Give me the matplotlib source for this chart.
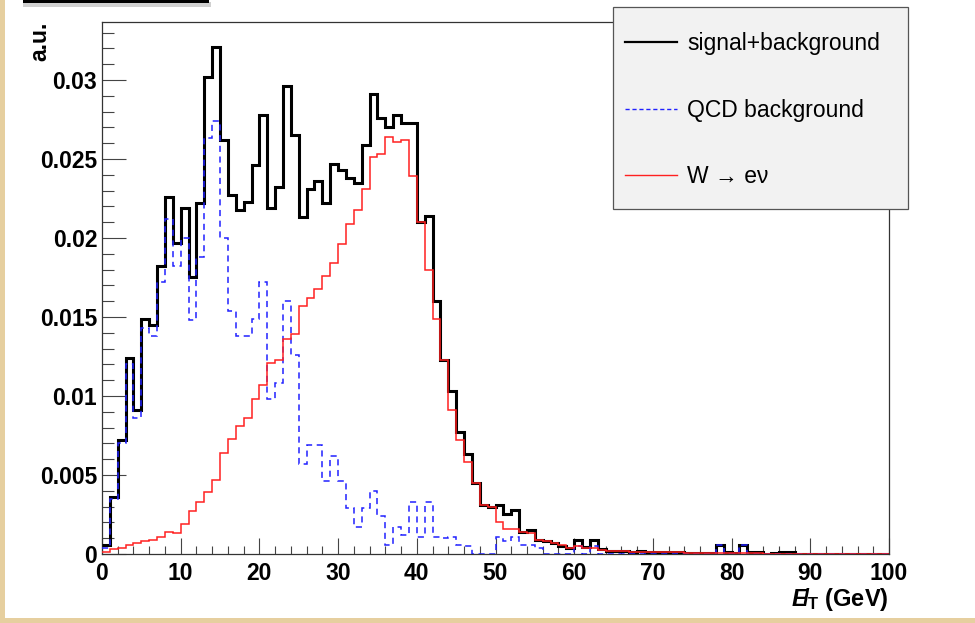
import matplotlib
matplotlib.use("Agg")
import matplotlib.pyplot as plt
from matplotlib.lines import Line2D
from matplotlib.patches import Rectangle
from matplotlib.ticker import FixedLocator, FixedFormatter, MultipleLocator
import numpy as np

plt.rcParams["font.family"] = ["Liberation Sans", "DejaVu Sans"]
plt.rcParams["mathtext.fontset"] = "custom"
plt.rcParams["mathtext.rm"] = "Liberation Sans:bold"
plt.rcParams["mathtext.it"] = "Liberation Sans:bold:italic"
plt.rcParams["mathtext.bf"] = "Liberation Sans:bold"

# 1 GeV bins from 0 to 100
bin_edges = np.arange(0, 101, 1)

signal_plus_bkg = [
    0.00057, 0.0036, 0.0072, 0.0124, 0.0091, 0.0149, 0.0145, 0.0182, 0.0226, 0.0197,
    0.0219, 0.0175, 0.0222, 0.0302, 0.0321, 0.0262, 0.0227, 0.0218, 0.0223, 0.0246,
    0.0278, 0.0219, 0.0232, 0.0296, 0.0265, 0.0213, 0.0231, 0.0236, 0.0222, 0.0247,
    0.0243, 0.0238, 0.0235, 0.0259, 0.0291, 0.0276, 0.0270, 0.0278, 0.0273, 0.0273,
    0.0210, 0.0214, 0.0160, 0.0123, 0.0103, 0.0077, 0.0063, 0.0045, 0.0031, 0.0030,
    0.0031, 0.0025, 0.0028, 0.0014, 0.0015, 0.0009, 0.0008, 0.0007, 0.0005, 0.0004,
    0.0009, 0.00045, 0.0009, 0.0003, 0.0002, 0.0002, 0.0002, 0.00015, 0.0002, 0.00015,
    0.0001, 0.0001, 0.0001, 0.0001, 0.00005, 0.00005, 0.00005, 0.00005, 0.00057, 0.0001,
    0.00005, 0.00057, 0.0001, 0.0001, 0.0, 0.00005, 0.0001, 0.0001, 0.0, 0.0,
    0.0, 0.0, 0.0, 0.0, 0.0, 0.0, 0.0, 0.0, 0.0, 0.0,
]

qcd_bkg = [
    0.0004, 0.0035, 0.0070, 0.0120, 0.0086, 0.0143, 0.0138, 0.0172, 0.0212, 0.0182,
    0.0200, 0.0148, 0.0188, 0.0263, 0.0274, 0.0200, 0.0154, 0.0138, 0.0138, 0.0149,
    0.0172, 0.0098, 0.0108, 0.0160, 0.0126, 0.0057, 0.0069, 0.0069, 0.0046, 0.0062,
    0.0046, 0.0029, 0.0017, 0.0029, 0.0040, 0.0024, 0.0006, 0.0017, 0.0012, 0.0033,
    0.0011, 0.0033, 0.0011, 0.0010, 0.0011, 0.0006, 0.0005, 0.0, 0.0, 0.0,
    0.0011, 0.0008, 0.0011, 0.0006, 0.0006, 0.0004, 0.0, 0.0, 0.0, 0.0,
    0.0005, 0.0, 0.0005, 0.0, 0.0, 0.0, 0.0, 0.0, 0.0, 0.0,
    0.0, 0.0, 0.0, 0.0, 0.0, 0.0, 0.0, 0.0, 0.00055, 0.0,
    0.0, 0.00055, 0.0, 0.0, 0.0, 0.0, 0.0, 0.0, 0.0, 0.0,
    0.0, 0.0, 0.0, 0.0, 0.0, 0.0, 0.0, 0.0, 0.0, 0.0,
]

w_enu = [
    0.0001, 0.0003, 0.0004, 0.0006, 0.0007, 0.0008, 0.0009, 0.0011, 0.0014, 0.00135,
    0.0019, 0.0027, 0.0033, 0.0039, 0.0047, 0.0064, 0.0073, 0.0081, 0.0086, 0.0098,
    0.0107, 0.0121, 0.0123, 0.0136, 0.0139, 0.0157, 0.0162, 0.0168, 0.0176, 0.0184,
    0.0196, 0.0209, 0.0218, 0.0231, 0.0251, 0.0253, 0.0264, 0.0261, 0.0262, 0.0239,
    0.0210, 0.0180, 0.0149, 0.0123, 0.0091, 0.0072, 0.0058, 0.0045, 0.0031, 0.0030,
    0.0020, 0.0016, 0.0016, 0.0014, 0.0013, 0.0009, 0.0008, 0.0007, 0.0006, 0.0004,
    0.0005, 0.0004, 0.00035, 0.00025, 0.0002, 0.0002, 0.0002, 0.00015, 0.00015, 0.00015,
    0.0001, 0.0001, 0.0001, 0.0001, 0.00007, 0.00007, 0.00007, 0.00007, 0.00008, 0.00008,
    0.00005, 0.00005, 0.00005, 0.00005, 0.00002, 0.00002, 0.00002, 0.00002, 0.00002, 0.00002,
    0.00002, 0.00002, 0.00002, 0.00002, 0.00002, 0.00002, 0.00002, 0.00002, 0.00002, 0.00002,
]

legend_labels = ["signal+background", "QCD background", "W \u2192 e\u03bd"]
xtick_values = [0, 10, 20, 30, 40, 50, 60, 70, 80, 90, 100]
ytick_values = [0, 0.005, 0.01, 0.015, 0.02, 0.025, 0.03]
ytick_labels = ["0", "0.005", "0.01", "0.015", "0.02", "0.025", "0.03"]

W, H = 975, 623
fig = plt.figure(figsize=(W / 100, H / 100), dpi=100, facecolor="#e6cf9f")

# white canvas over the parchment edge (kept under the axes)
fig.patches.append(Rectangle((5 / W, 5 / H), 1 - 5 / W, 1 - 5 / H, transform=fig.transFigure,
                             facecolor="white", edgecolor="none", zorder=-5))
# bit of the cropped title bar at the very top
fig.patches.append(Rectangle((23 / W, 1 - 7 / H), 188 / W, 5 / H, transform=fig.transFigure,
                             facecolor="#d0d0d0", edgecolor="none", zorder=1))
fig.patches.append(Rectangle((23 / W, 1 - 3 / H), 186 / W, 3 / H, transform=fig.transFigure,
                             facecolor="black", edgecolor="none", zorder=2))

ax = fig.add_axes([102 / W, 69 / H, 787 / W, 532 / H])
ax.set_facecolor("white")

ax.stairs(signal_plus_bkg, bin_edges, baseline=None, color="black", linewidth=2.2, zorder=3)
ax.stairs(qcd_bkg, bin_edges, baseline=None, color="#2020ff", linewidth=1.1,
          linestyle=(0, (4, 3)), zorder=4)
ax.stairs(w_enu, bin_edges, baseline=None, color="#ff2020", linewidth=1.1, zorder=5)

ax.set_xlim(0, 100)
ax.set_ylim(0, 0.03367)

for s in ax.spines.values():
    s.set_color("#333333")
    s.set_linewidth(0.9)

ax.xaxis.set_major_locator(FixedLocator(xtick_values))
ax.xaxis.set_minor_locator(MultipleLocator(2))
ax.yaxis.set_major_locator(FixedLocator(ytick_values))
ax.yaxis.set_major_formatter(FixedFormatter(ytick_labels))
ax.yaxis.set_minor_locator(MultipleLocator(0.001))

ax.tick_params(axis="both", which="both", direction="in", color="#444444", width=0.8,
               top=False, right=False)
ax.tick_params(axis="y", which="major", length=17, pad=3.5)
ax.tick_params(axis="y", which="minor", length=8.5)
ax.tick_params(axis="x", which="major", length=11.5, pad=5.5)
ax.tick_params(axis="x", which="minor", length=5.5)
for lab in ax.get_xticklabels() + ax.get_yticklabels():
    lab.set_fontsize(16.5)
    lab.set_fontweight("bold")

ax.set_ylabel("a.u.", fontsize=16.5, fontweight="bold", loc="top")
ax.yaxis.set_label_coords(-0.064, 1.0)
ax.set_xlabel(r"$/\!\!\!\!\!E_{\mathrm{T}}$ (GeV)", fontsize=17, fontweight="bold", loc="right")
ax.xaxis.set_label_coords(1.0, -0.060)

# legend: frame drawn as a plain box, entries placed inside it
fig.patches.append(Rectangle((613 / W, 1 - 209 / H), 295 / W, 202 / H, transform=fig.transFigure,
                             facecolor="#f2f2f2", edgecolor="#555555", linewidth=0.9, zorder=8))
handles = [
    Line2D([], [], color="black", linewidth=1.6),
    Line2D([], [], color="#2020ff", linewidth=1.0, linestyle=(0, (3, 2))),
    Line2D([], [], color="#ff2020", linewidth=1.0),
]
leg = fig.legend(handles, legend_labels, loc="upper left",
                 bbox_to_anchor=(625 / W, 1 - 32 / H), bbox_transform=fig.transFigure,
                 borderaxespad=0, borderpad=0, fontsize=16.5, frameon=False,
                 handlelength=2.25, handletextpad=0.45, labelspacing=1.9)
leg.set_zorder(9)

fig.savefig("out.png", dpi=100, facecolor=fig.get_facecolor())
